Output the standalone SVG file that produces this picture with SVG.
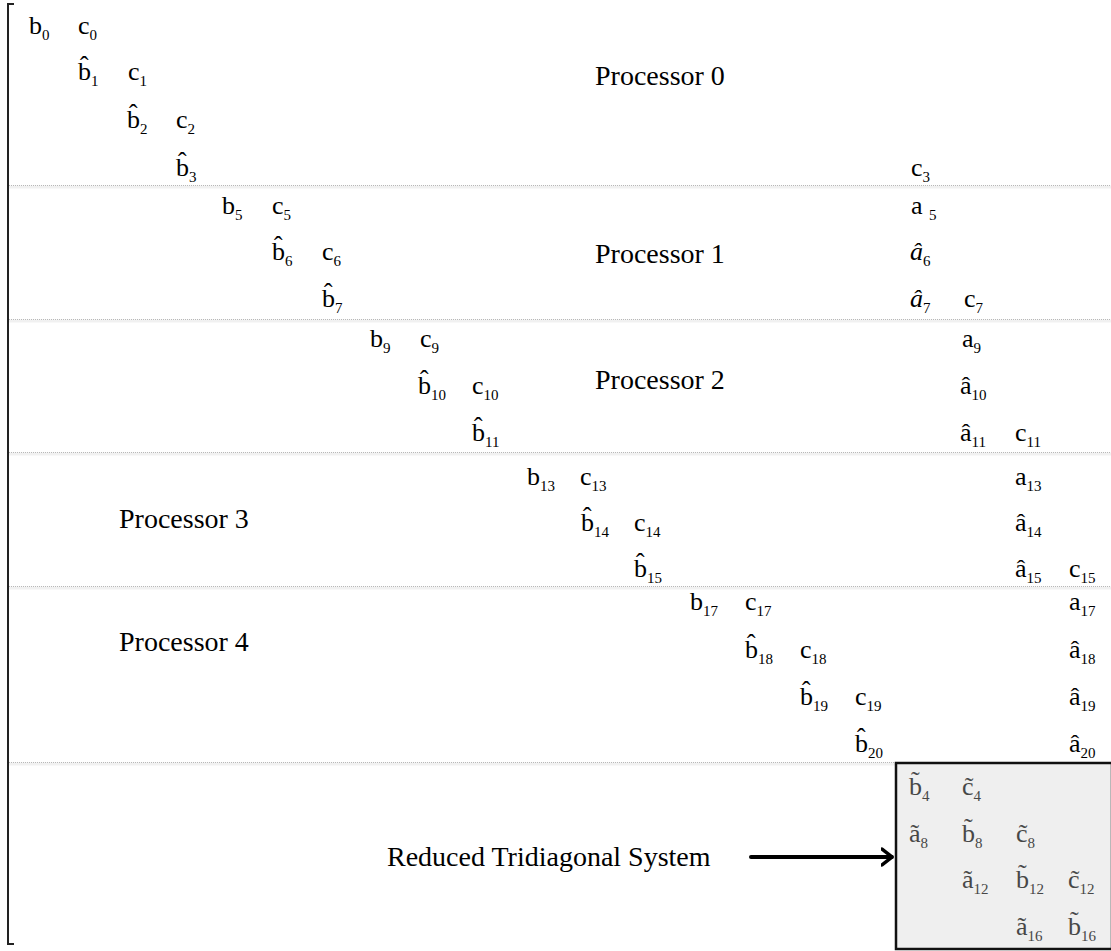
<svg xmlns="http://www.w3.org/2000/svg" width="1111" height="951" viewBox="0 0 1111 951">
<style>
text{font-family:"Liberation Serif","Times New Roman",serif;fill:#000}
.m{font-size:26px}
.s{font-size:15px}
.i{font-style:italic}
.lbl{font-size:28px}
.r{fill:#474747}
.sep{stroke:#b8b8b8;stroke-width:1;stroke-dasharray:1 1}
.sh{stroke:#f1f1f1;stroke-width:3}
</style>
<defs>
<marker id="ah" viewBox="0 0 12 20" refX="11" refY="10" markerWidth="12" markerHeight="20" markerUnits="userSpaceOnUse" orient="auto">
<path d="M1,2 L11,10 L1,18" fill="none" stroke="#000" stroke-width="3.5" stroke-linecap="round" stroke-linejoin="round"/>
</marker>
</defs>
<rect width="1111" height="951" fill="#fff"/>
<g id="bracket">
<path d="M14,4 L8,4 L8,944 L14,944" fill="none" stroke="#222" stroke-width="2"/>
</g>
<g id="separators">
<line class="sh" x1="9" y1="187" x2="1111" y2="187"/><line class="sep" x1="9" y1="185.5" x2="1111" y2="185.5"/>
<line class="sh" x1="9" y1="321" x2="1111" y2="321"/><line class="sep" x1="9" y1="319.5" x2="1111" y2="319.5"/>
<line class="sh" x1="9" y1="454" x2="1111" y2="454"/><line class="sep" x1="9" y1="452.5" x2="1111" y2="452.5"/>
<line class="sh" x1="9" y1="588" x2="1111" y2="588"/><line class="sep" x1="9" y1="586.5" x2="1111" y2="586.5"/>
<line class="sh" x1="9" y1="764" x2="895" y2="764"/><line class="sep" x1="9" y1="762.5" x2="895" y2="762.5"/>
</g>
<g id="processor0">
<text class="lbl" x="595" y="85">Processor 0</text>
<text class="m" x="29" y="34">b<tspan class="s" dy="6">0</tspan></text>
<text class="m" x="78" y="34">c<tspan class="s" dy="6">0</tspan></text>
<text class="m" x="78" y="80">b&#x302;<tspan class="s" dy="6">1</tspan></text>
<text class="m" x="128" y="80">c<tspan class="s" dy="6">1</tspan></text>
<text class="m" x="127" y="128">b&#x302;<tspan class="s" dy="6">2</tspan></text>
<text class="m" x="176" y="128">c<tspan class="s" dy="6">2</tspan></text>
<text class="m" x="176" y="176">b&#x302;<tspan class="s" dy="6">3</tspan></text>
<text class="m" x="911" y="176">c<tspan class="s" dy="6">3</tspan></text>
</g>
<g id="processor1">
<text class="lbl" x="595" y="263">Processor 1</text>
<text class="m" x="222" y="214">b<tspan class="s" dy="6">5</tspan></text>
<text class="m" x="272" y="214">c<tspan class="s" dy="6">5</tspan></text>
<text class="m" x="911" y="214">a <tspan class="s" dy="6">5</tspan></text>
<text class="m" x="272" y="260">b&#x302;<tspan class="s" dy="6">6</tspan></text>
<text class="m" x="322" y="260">c<tspan class="s" dy="6">6</tspan></text>
<text class="m i" x="910" y="260">&#xe2;<tspan class="s" dy="6" font-style="normal">6</tspan></text>
<text class="m" x="322" y="307">b&#x302;<tspan class="s" dy="6">7</tspan></text>
<text class="m i" x="910" y="307">&#xe2;<tspan class="s" dy="6" font-style="normal">7</tspan></text>
<text class="m" x="964" y="307">c<tspan class="s" dy="6">7</tspan></text>
</g>
<g id="processor2">
<text class="lbl" x="595" y="389">Processor 2</text>
<text class="m" x="370" y="347">b<tspan class="s" dy="6">9</tspan></text>
<text class="m" x="420" y="347">c<tspan class="s" dy="6">9</tspan></text>
<text class="m" x="962" y="347">a<tspan class="s" dy="6">9</tspan></text>
<text class="m" x="418" y="394">b&#x302;<tspan class="s" dy="6">10</tspan></text>
<text class="m" x="472" y="394">c<tspan class="s" dy="6">10</tspan></text>
<text class="m" x="960" y="394">&#xe2;<tspan class="s" dy="6">10</tspan></text>
<text class="m" x="472" y="441">b&#x302;<tspan class="s" dy="6">11</tspan></text>
<text class="m" x="960" y="441">&#xe2;<tspan class="s" dy="6">11</tspan></text>
<text class="m" x="1015" y="441">c<tspan class="s" dy="6">11</tspan></text>
</g>
<g id="processor3">
<text class="lbl" x="119" y="528">Processor 3</text>
<text class="m" x="527" y="485">b<tspan class="s" dy="6">13</tspan></text>
<text class="m" x="580" y="485">c<tspan class="s" dy="6">13</tspan></text>
<text class="m" x="1015" y="485">a<tspan class="s" dy="6">13</tspan></text>
<text class="m" x="581" y="531">b&#x302;<tspan class="s" dy="6">14</tspan></text>
<text class="m" x="634" y="531">c<tspan class="s" dy="6">14</tspan></text>
<text class="m" x="1015" y="531">&#xe2;<tspan class="s" dy="6">14</tspan></text>
<text class="m" x="634" y="577">b&#x302;<tspan class="s" dy="6">15</tspan></text>
<text class="m" x="1015" y="577">&#xe2;<tspan class="s" dy="6">15</tspan></text>
<text class="m" x="1069" y="577">c<tspan class="s" dy="6">15</tspan></text>
</g>
<g id="processor4">
<text class="lbl" x="119" y="651">Processor 4</text>
<text class="m" x="690" y="610">b<tspan class="s" dy="6">17</tspan></text>
<text class="m" x="745" y="610">c<tspan class="s" dy="6">17</tspan></text>
<text class="m" x="1069" y="610">a<tspan class="s" dy="6">17</tspan></text>
<text class="m" x="745" y="658">b&#x302;<tspan class="s" dy="6">18</tspan></text>
<text class="m" x="800" y="658">c<tspan class="s" dy="6">18</tspan></text>
<text class="m" x="1069" y="658">&#xe2;<tspan class="s" dy="6">18</tspan></text>
<text class="m" x="800" y="705">b&#x302;<tspan class="s" dy="6">19</tspan></text>
<text class="m" x="855" y="705">c<tspan class="s" dy="6">19</tspan></text>
<text class="m" x="1069" y="705">&#xe2;<tspan class="s" dy="6">19</tspan></text>
<text class="m" x="855" y="752">b&#x302;<tspan class="s" dy="6">20</tspan></text>
<text class="m" x="1069" y="752">&#xe2;<tspan class="s" dy="6">20</tspan></text>
</g>
<g id="reduced-label">
<text class="lbl" x="387" y="866">Reduced Tridiagonal System</text>
</g>
<g id="reduced-system">
<rect x="896" y="763" width="216" height="186" fill="#efefef" stroke="#111" stroke-width="2.5"/>
<text class="m r" x="909" y="795">b&#x303;<tspan class="s" dy="6">4</tspan></text>
<text class="m r" x="962" y="795">c&#x303;<tspan class="s" dy="6">4</tspan></text>
<text class="m r" x="909" y="842">&#xe3;<tspan class="s" dy="6">8</tspan></text>
<text class="m r" x="962" y="842">b&#x303;<tspan class="s" dy="6">8</tspan></text>
<text class="m r" x="1016" y="842">c&#x303;<tspan class="s" dy="6">8</tspan></text>
<text class="m r" x="962" y="888">&#xe3;<tspan class="s" dy="6">12</tspan></text>
<text class="m r" x="1016" y="888">b&#x303;<tspan class="s" dy="6">12</tspan></text>
<text class="m r" x="1068" y="888">c&#x303;<tspan class="s" dy="6">12</tspan></text>
<text class="m r" x="1016" y="935">&#xe3;<tspan class="s" dy="6">16</tspan></text>
<text class="m r" x="1068" y="935">b&#x303;<tspan class="s" dy="6">16</tspan></text>
</g>
<g id="connectors">
<line x1="751" y1="857" x2="892" y2="857" stroke="#000" stroke-width="4" stroke-linecap="round" marker-end="url(#ah)"/>
</g>
</svg>
